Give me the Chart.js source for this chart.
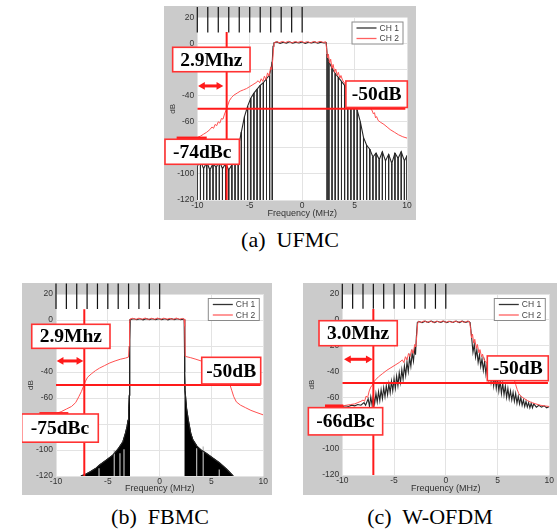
<!DOCTYPE html>
<html><head><meta charset="utf-8">
<script src="https://cdn.jsdelivr.net/npm/chart.js@4.4.1/dist/chart.umd.min.js"></script>
<style>
html,body{margin:0;padding:0;background:#fff;width:557px;height:530px;overflow:hidden;}
canvas{position:absolute;background:#cbcbcb;}
.cap{position:absolute;font-family:"Liberation Serif","DejaVu Serif",serif;font-size:22px;color:#000;white-space:pre;text-align:center;line-height:22px;}
</style></head><body>
<canvas id="ca" width="252" height="214" style="left:164px;top:6px;"></canvas>
<canvas id="cb" width="250" height="212" style="left:22px;top:283px;"></canvas>
<canvas id="cc" width="254" height="212" style="left:303px;top:283px;"></canvas>
<div class="cap" style="left:190px;top:229px;width:200px;">(a)  UFMC</div>
<div class="cap" style="left:60px;top:506px;width:200px;">(b)  FBMC</div>
<div class="cap" style="left:330px;top:506px;width:200px;">(c)  W-OFDM</div>
<script>
// ---------------- DATA ----------------
const xTicks = [-10, -5, 0, 5, 10];
const yTicks = [-120, -100, -80, -60, -40, -20, 0, 20];
const markerLinesX = [-10, -9, -8, -7, -6, -5, -4, -3, -2, -1, 0];

// (a) UFMC  (CH 1 comb: lobe peaks; each lobe null reaches the -120 floor)
const ufmcCh1Left = [[-10,-94],[-9.7,-90],[-9.4,-96],[-9.1,-91],[-8.8,-97],[-8.5,-92],[-8.2,-95],[-7.9,-90],[-7.6,-96],[-7.3,-92],[-7.0,-97],[-6.7,-93],[-6.4,-89],[-6.1,-80],[-5.8,-68],[-5.5,-56],[-5.2,-48],[-4.9,-42],[-4.6,-38],[-4.3,-35],[-4.0,-32],[-3.7,-30],[-3.4,-27],[-3.1,-24],[-2.85,-14]];
const ufmcCh1Flat = [[-2.78,-2],[-2.7,0.6],[-2.4,1.3],[-2.1,0.2],[-1.8,1.0],[-1.5,0.4],[-1.2,1.4],[-0.9,0.3],[-0.6,1.1],[-0.3,0.5],[0,1.2],[0.3,0.2],[0.6,1.0],[0.9,0.4],[1.2,1.3],[1.5,0.3],[1.8,1.1],[2.1,0.5],[2.3,0.8]];
const ufmcCh1Right = [[2.38,-8],[2.55,-14],[2.85,-19],[3.15,-23],[3.45,-26],[3.75,-29],[4.05,-32],[4.35,-36],[4.65,-40],[4.95,-45],[5.25,-51],[5.55,-60],[5.85,-72],[6.15,-78],[6.45,-81],[6.75,-87],[7.05,-84],[7.35,-89],[7.65,-83],[7.95,-90],[8.25,-85],[8.55,-92],[8.85,-84],[9.15,-88],[9.45,-83],[9.75,-90],[10,-86]];
const ufmcFloor = -120;
const ufmcCh2 = [[-10,-72],[-9.7,-71],[-9.4,-69.5],[-9.1,-68],[-8.8,-66],[-8.6,-64],[-8.45,-65],[-8.3,-62],[-8.15,-63],[-8.0,-60],[-7.85,-61],[-7.7,-57.5],[-7.55,-58],[-7.4,-54],[-7.25,-51],[-7.1,-47.5],[-6.95,-44],[-6.75,-41.5],[-6.5,-39.5],[-6.2,-38],[-5.9,-36.5],[-5.6,-35.5],[-5.3,-34.5],[-5.0,-33],[-4.7,-31.5],[-4.4,-30],[-4.2,-28.5],[-4.05,-30],[-3.9,-27],[-3.75,-29],[-3.6,-25],[-3.45,-27.5],[-3.3,-22.5],[-3.15,-25],[-3.0,-18],[-2.9,-20],[-2.8,-12],[-2.72,-3],[-2.65,0.8],
[-2.4,1.5],[-2.2,0.6],[-1.9,1.6],[-1.6,0.8],[-1.3,1.7],[-1.0,0.5],[-0.7,1.5],[-0.4,0.9],[-0.1,1.8],[0.2,0.7],[0.5,1.5],[0.8,0.6],[1.1,1.6],[1.4,0.8],[1.7,1.7],[2.0,0.9],[2.25,1.4],
[2.33,-4],[2.42,-11],[2.5,-8],[2.62,-15],[2.72,-12],[2.85,-19],[2.95,-16],[3.1,-22],[3.2,-19.5],[3.35,-24.5],[3.45,-22],[3.6,-26.5],[3.7,-24.5],[3.85,-28],[4.1,-31],[4.5,-35],[5.0,-40],[5.5,-44],[6.0,-47],[6.4,-49],[6.65,-51],[6.8,-54],[6.9,-53],[7.0,-57],[7.1,-56],[7.25,-59],[7.5,-60.5],[7.8,-62],[8.1,-64],[8.4,-66],[8.8,-68],[9.2,-70],[9.6,-71.5],[10,-72.5]];

// (b) FBMC
const fbmcSkirtL = [[-7.6,-120],[-7.1,-118.5],[-6.7,-116.7],[-6.2,-114.3],[-5.8,-111.5],[-5.2,-108],[-4.5,-103.8],[-4.0,-99],[-3.55,-93.6],[-3.3,-87],[-3.15,-82],[-3.05,-77],[-2.98,-68],[-2.93,-58],[-2.9,-45],[-2.88,-15],[-2.86,0.3]];
const fbmcFlat = [[-2.8,0.3],[-2.5,1.0],[-2.2,0.2],[-1.9,0.9],[-1.6,0.1],[-1.3,1.0],[-1.0,0.3],[-0.7,0.9],[-0.4,0.2],[-0.1,1.0],[0.2,0.3],[0.5,0.9],[0.8,0.1],[1.1,1.0],[1.4,0.3],[1.7,0.9],[2.0,0.2],[2.3,0.7]];
const fbmcSkirtR = [[2.38,0.3],[2.4,-15],[2.42,-40],[2.45,-54],[2.6,-68],[2.77,-77],[3.0,-87],[3.2,-92],[3.6,-97],[4.0,-100],[4.5,-102.5],[5.1,-106],[5.8,-110],[6.5,-115],[7.1,-120]];
const fbmcGapX = [-5.85, -4.38, -3.83, -3.44, 3.57, 4.2, 5.75];
const fbmcGapTop = [-114, -100, -102.5, -99.5, -98.7, -97.4, -115];
const fbmcCh2 = [[-10,-72],[-9.5,-70.5],[-9,-68.5],[-8.5,-66.5],[-8.1,-63.5],[-7.8,-59],[-7.55,-55],[-7.35,-51],[-7.15,-47],[-6.95,-44],[-6.6,-41.5],[-6.2,-39],[-5.8,-37],[-5.3,-35],[-4.8,-33],[-4.3,-31.5],[-3.8,-30.2],[-3.3,-29.3],[-3.0,-28.5],[-2.95,-20],[-2.9,-2],[-2.85,0.8],
[-2.6,1.3],[-2.3,0.5],[-2.0,1.4],[-1.7,0.6],[-1.4,1.5],[-1.1,0.4],[-0.8,1.3],[-0.5,0.6],[-0.2,1.5],[0.1,0.5],[0.4,1.4],[0.7,0.6],[1.0,1.3],[1.3,0.4],[1.6,1.5],[1.9,0.6],[2.2,1.2],
[2.35,0.8],[2.42,-5],[2.47,-28],[3.0,-29],[3.5,-30.2],[4.0,-31.5],[4.5,-33],[5.0,-35],[5.5,-37],[5.9,-39],[6.2,-41.5],[6.5,-45],[6.75,-49],[6.95,-54],[7.15,-59],[7.4,-63],[7.8,-65.5],[8.3,-67.5],[8.8,-69.5],[9.3,-71],[10,-73]];

// (c) W-OFDM
const wofdmCh1 = [[-10,-67],[-9.7,-66.5],[-9.4,-67],[-9.1,-66],[-8.8,-66.5],[-8.5,-65.5],[-8.2,-66],[-7.9,-64],[-7.75,-66],
[-7.5,-61],[-7.375,-67],[-7.25,-59.5],[-7.125,-66],[-7.0,-58.5],[-6.875,-65],[-6.75,-57],[-6.625,-63.5],[-6.5,-55.5],[-6.375,-62.5],[-6.25,-54],[-6.125,-61],[-6.0,-52.5],[-5.875,-59.5],[-5.75,-51],[-5.625,-58],[-5.5,-49.5],[-5.375,-56.5],[-5.25,-47.5],[-5.125,-55],[-5.0,-45.5],[-4.875,-53],[-4.75,-43.5],[-4.625,-51],[-4.5,-41],[-4.375,-48.5],[-4.25,-38.5],[-4.125,-46],[-4.0,-35.5],[-3.875,-43],[-3.75,-32.5],[-3.625,-40],[-3.5,-29],[-3.375,-36],[-3.25,-25.5],[-3.125,-32],[-3.0,-21],[-2.925,-27],[-2.85,-14],[-2.75,-2],
[-2.6,-1.2],[-2.3,-2.2],[-2.0,-1.0],[-1.7,-2.0],[-1.4,-0.9],[-1.1,-2.1],[-0.8,-1.1],[-0.5,-2.0],[-0.2,-1.0],[0.1,-2.2],[0.4,-1.1],[0.7,-2.0],[1.0,-0.9],[1.3,-2.1],[1.6,-1.0],[1.9,-2.0],[2.2,-1.2],[2.35,-2],
[2.5,-14],[2.625,-25],[2.75,-19],[2.875,-29],[3.0,-23],[3.125,-33],[3.25,-27],[3.375,-36],[3.5,-30],[3.625,-39],[3.75,-32],[3.875,-42],[4.0,-34],[4.125,-45],[4.25,-37],[4.375,-48],[4.5,-40],[4.625,-51],[4.75,-43],[4.875,-53],[5.0,-45],[5.125,-55],[5.25,-47],[5.375,-57],[5.5,-49],[5.625,-58],[5.75,-51],[5.875,-60],[6.0,-53],[6.125,-61],[6.25,-55],[6.375,-62],[6.5,-56],[6.625,-63],[6.75,-57],[6.875,-64.5],[7.0,-59],[7.125,-65],[7.25,-60],[7.375,-66],[7.5,-62],[7.625,-67],[7.75,-63],[7.875,-67.5],[8.0,-64],[8.125,-68],[8.25,-64.5],[8.375,-68],[8.5,-65],[8.75,-67.5],[9.0,-66],[9.25,-67.5],[9.5,-66.5],[9.75,-68],[10,-67]];
const wofdmCh2 = [[-10,-66.5],[-9.6,-66],[-9.2,-65.5],[-8.8,-65],[-8.5,-64],[-8.2,-63],[-8.0,-62],[-7.85,-63],[-7.7,-59],[-7.55,-60],[-7.4,-55],[-7.25,-52],[-7.1,-50.5],[-6.95,-48],[-6.8,-46.5],[-6.5,-44],[-6.1,-41.5],[-5.7,-39],[-5.3,-37],[-4.9,-35],[-4.5,-33],[-4.2,-31],[-4.05,-33],[-3.9,-28.5],[-3.75,-31],[-3.6,-26],[-3.45,-28.5],[-3.3,-23],[-3.15,-26],[-3.0,-19],[-2.9,-21],[-2.8,-12],[-2.72,-3],[-2.65,-1.2],
[-2.4,-2.0],[-2.1,-0.8],[-1.8,-1.9],[-1.5,-0.9],[-1.2,-2.1],[-0.9,-1.0],[-0.6,-1.9],[-0.3,-0.8],[0,-2.0],[0.3,-1.0],[0.6,-2.1],[0.9,-0.9],[1.2,-1.9],[1.5,-1.0],[1.8,-2.0],[2.1,-0.9],[2.3,-1.5],
[2.38,-6],[2.48,-14],[2.58,-11],[2.7,-18],[2.8,-15],[2.95,-22],[3.05,-19],[3.2,-25.5],[3.3,-23],[3.45,-28.5],[3.55,-26.5],[3.7,-31],[3.95,-33.5],[4.3,-36],[4.7,-38.5],[5.2,-40.5],[5.7,-42],[6.1,-43],[6.4,-44],[6.6,-46],[6.75,-50],[6.9,-54],[7.05,-57],[7.25,-59],[7.5,-60.5],[7.9,-62.5],[8.3,-64],[8.7,-65],[9.1,-66],[9.5,-66.5],[10,-67]];

// ---------------- RENDER ----------------
const SANS = '"Liberation Sans", Arial, sans-serif';
const SERIF = '"Liberation Serif", "Times New Roman", serif';
const RED = '#ff1a1a';
const xy = a => a.map(p => ({x: p[0], y: p[1]}));
function segments(xs, tops, bottoms) {
  const out = [];
  xs.forEach((x, i) => {
    out.push({x, y: Array.isArray(tops) ? tops[i] : tops});
    out.push({x, y: Array.isArray(bottoms) ? bottoms[i] : bottoms});
    out.push({x, y: null});
  });
  return out;
}

const bgPlugin = {
  id: 'bg',
  beforeDraw(chart) {
    const {ctx, chartArea: a} = chart;
    ctx.save(); ctx.fillStyle = '#fff';
    ctx.fillRect(a.left, a.top, a.right - a.left, a.bottom - a.top);
    ctx.restore();
  }
};
const boxPlugin = {
  id: 'boxes',
  afterDatasetsDraw(chart, args, opts) {
    const {ctx, scales: {x, y}, chartArea: a} = chart;
    ctx.save();
    (opts.boxes || []).forEach(b => {
      const l = x.getPixelForValue(b.x1), r = x.getPixelForValue(b.x2);
      const t = y.getPixelForValue(b.y1), bt = y.getPixelForValue(b.y2);
      ctx.fillStyle = '#fff'; ctx.fillRect(l, t, r - l, bt - t);
      ctx.strokeStyle = '#ff3333'; ctx.lineWidth = 1.6; ctx.strokeRect(l, t, r - l, bt - t);
      ctx.fillStyle = '#000'; ctx.font = 'bold 19.5px ' + SERIF;
      ctx.textAlign = 'center'; ctx.textBaseline = 'middle';
      ctx.fillText(b.text, (l + r) / 2, (t + bt) / 2 + 1);
    });
    const w = 52, h = 23, lx = a.right - 3.5 - w, ly = a.top + 4;
    ctx.fillStyle = '#fff'; ctx.fillRect(lx, ly, w, h);
    ctx.strokeStyle = '#8a8a8a'; ctx.lineWidth = 1; ctx.strokeRect(lx + 0.5, ly + 0.5, w - 1, h - 1);
    const rows = [['CH 1', '#333'], ['CH 2', '#ff6060']];
    ctx.font = '8.5px ' + SANS; ctx.textAlign = 'left'; ctx.textBaseline = 'middle';
    rows.forEach((rw, i) => {
      const yy = ly + 6.5 + i * 10.5;
      ctx.strokeStyle = rw[1]; ctx.lineWidth = 1.3;
      ctx.beginPath(); ctx.moveTo(lx + 5, yy); ctx.lineTo(lx + 25, yy); ctx.stroke();
      ctx.fillStyle = '#444'; ctx.fillText(rw[0], lx + 28, yy + 0.5);
    });
    ctx.restore();
  }
};

function makePanel(id, p) {
  const ds = [];
  ds.push({label: 'vline', data: [{x: p.vline.x, y: p.vline.top}, {x: p.vline.x, y: -120}], borderColor: RED, borderWidth: 2, pointRadius: 0, order: 0});
  ds.push({label: 'hline', data: [{x: -10, y: p.hline.y}, {x: p.hline.x2, y: p.hline.y}], borderColor: RED, borderWidth: 2, pointRadius: 0, order: 0});
  ds.push({label: 'marker', data: [{x: p.marker.x1, y: p.marker.y}, {x: p.marker.x2, y: p.marker.y}], borderColor: RED, borderWidth: 3, pointRadius: 0, order: 0, clip: false});
  ds.push({label: 'arrow', data: [{x: p.arrow.x1, y: p.arrow.y}, {x: p.arrow.x2, y: p.arrow.y}], borderColor: RED, borderWidth: 3,
    pointStyle: 'triangle', pointRadius: 4.5, pointRotation: [-90, 90], pointBackgroundColor: RED, pointBorderColor: RED, pointBorderWidth: 0, order: 0, clip: false});
  ds.push({label: 'ticks', data: segments(markerLinesX, 28, 8.5), borderColor: '#111', borderWidth: 1.2, pointRadius: 0, spanGaps: false, clip: false, order: 0});
  ds.push({label: 'CH 2', data: xy(p.ch2), borderColor: '#ff5050', borderWidth: 1, pointRadius: 0, order: 1});
  ds.push({label: 'CH 1', data: xy(p.ch1), borderColor: '#262626', borderWidth: 1.1, pointRadius: 0, order: 2});
  if (p.spikes) ds.push({label: 'CH 1 nulls', data: segments(p.spikes.map(q => q[0]), p.spikes.map(q => q[1]), p.floor),
    borderColor: '#2a2a2a', borderWidth: 1, pointRadius: 0, spanGaps: false, order: 2});
  (p.fills || []).forEach(f => ds.push({label: 'fill', data: xy(f), borderColor: '#000', backgroundColor: '#000', borderWidth: 1, fill: 'start', pointRadius: 0, order: 3}));
  if (p.gaps) ds.push({label: 'gaps', data: segments(p.gaps.x, p.gaps.top, -120), borderColor: '#b8b8b8', borderWidth: 1.2, pointRadius: 0, spanGaps: false, order: 2.5});

  const tickFont = {size: 8.5, family: SANS};
  new Chart(document.getElementById(id), {
    type: 'line',
    data: {datasets: ds},
    options: {
      animation: false, responsive: false, devicePixelRatio: 1,
      layout: {padding: {top: p.pad.top, right: p.pad.right, left: 0, bottom: 0}},
      plugins: {legend: {display: false}, tooltip: {enabled: false}, boxes: {boxes: p.boxes}},
      elements: {line: {tension: 0}},
      scales: {
        x: {type: 'linear', min: -10, max: 10,
          afterBuildTicks: s => { s.ticks = xTicks.map(v => ({value: v})); },
          ticks: {color: '#333', font: tickFont, padding: 1, maxRotation: 0, autoSkip: false},
          grid: {color: '#e3e3e3', drawTicks: false}, border: {display: false},
          title: {display: true, text: 'Frequency (MHz)', color: '#333', font: {size: 9, family: SANS}, padding: {top: 0, bottom: 1}},
          afterFit: s => { s.height = p.pad.bottom; }},
        y: {type: 'linear', min: -120, max: 20,
          afterBuildTicks: s => { s.ticks = yTicks.map(v => ({value: v})); },
          ticks: {color: '#333', font: tickFont, padding: 3, autoSkip: false},
          grid: {color: '#e3e3e3', drawTicks: false}, border: {display: false},
          title: {display: true, text: 'dB', color: '#333', font: {size: 8, family: SANS}, padding: {top: 4, bottom: 0}},
          afterFit: s => { s.width = p.pad.left; }}
      }
    },
    plugins: [bgPlugin, boxPlugin]
  });
}

makePanel('ca', {
  ch1: [...ufmcCh1Left, ...ufmcCh1Flat, ...ufmcCh1Right], ch2: ufmcCh2,
  spikes: [...ufmcCh1Left, ...ufmcCh1Right], floor: ufmcFloor,
  pad: {top: 11.5, right: 9, left: 33.3, bottom: 20},
  vline: {x: -7.2, top: 8.8}, hline: {y: -50, x2: 9.84}, marker: {x1: -11.97, x2: -9.1, y: -72.5},
  arrow: {x1: -9.5, x2: -7.95, y: -32.5},
  boxes: [{x1: -12.35, x2: -4.97, y1: -2.86, y2: -21.6, text: '2.9Mhz'},
          {x1: 4.17, x2: 10.03, y1: -28.7, y2: -49.0, text: '-50dB'},
          {x1: -13.08, x2: -5.99, y1: -73.4, y2: -92.6, text: '-74dBc'}]
});
makePanel('cb', {
  ch1: [...fbmcSkirtL, ...fbmcFlat, ...fbmcSkirtR], ch2: fbmcCh2, fills: [fbmcSkirtL, fbmcSkirtR],
  gaps: {x: fbmcGapX, top: fbmcGapTop},
  pad: {top: 11, right: 8.7, left: 34, bottom: 19},
  vline: {x: -7.27, top: 8.2}, hline: {y: -50, x2: 9.75}, marker: {x1: -11.6, x2: -8.81, y: -72},
  arrow: {x1: -9.5, x2: -7.8, y: -31.5},
  boxes: [{x1: -12.34, x2: -4.79, y1: -3.3, y2: -21.8, text: '2.9Mhz'},
          {x1: 4.06, x2: 9.75, y1: -28.7, y2: -49.2, text: '-50dB'},
          {x1: -13.31, x2: -5.92, y1: -72.3, y2: -94, text: '-75dBc'}]
});
makePanel('cc', {
  ch1: wofdmCh1, ch2: wofdmCh2,
  pad: {top: 11, right: 7.7, left: 39.3, bottom: 20},
  vline: {x: -7.0, top: 8.4}, hline: {y: -48.8, x2: 9.87}, marker: {x1: -11.67, x2: -9.9, y: -66.6},
  arrow: {x1: -9.4, x2: -7.5, y: -30.5},
  boxes: [{x1: -12.25, x2: -4.69, y1: -0.65, y2: -20.0, text: '3.0Mhz'},
          {x1: 4.01, x2: 9.9, y1: -27.9, y2: -47.05, text: '-50dB'},
          {x1: -13.28, x2: -6.1, y1: -67.9, y2: -89, text: '-66dBc'}]
});
</script>
</body></html>
